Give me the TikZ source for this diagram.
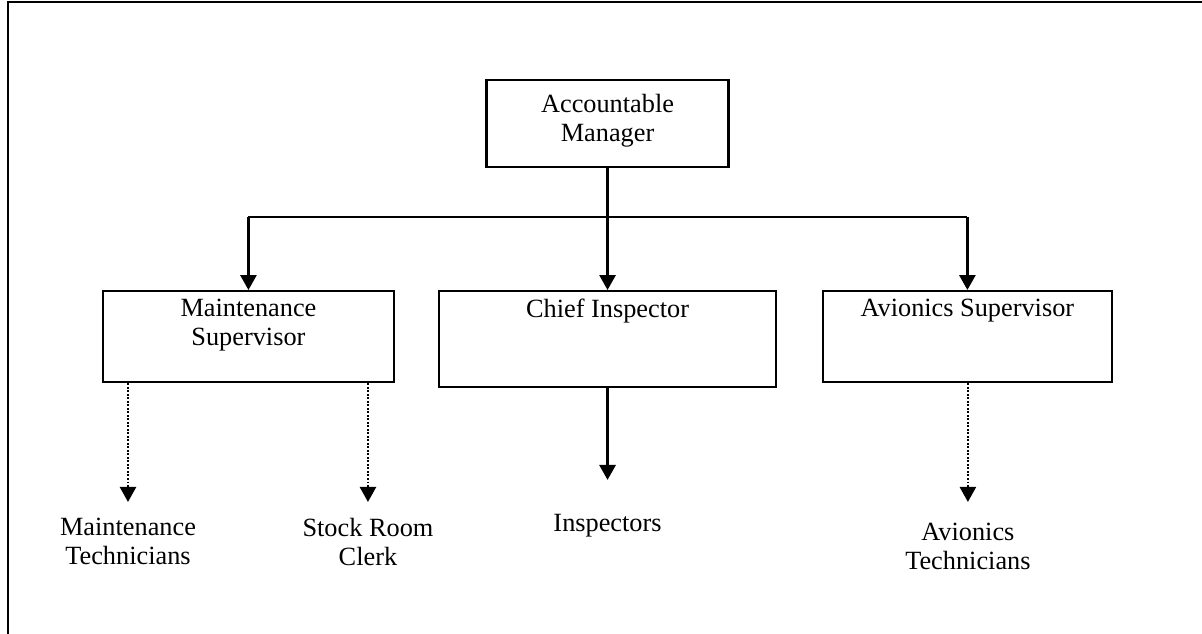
\documentclass[tikz,border=0pt]{standalone}
\usepackage{fontspec}
\setmainfont{Liberation Serif}
\usetikzlibrary{arrows.meta,positioning}

\begin{document}
\begin{tikzpicture}[
    font=\fontsize{12}{13.2}\selectfont,
    unit/.style={rectangle, draw, line width=1.05pt, align=center},
    caption/.style={anchor=north, inner sep=0pt, yshift=-0.145cm, align=center},
    staff/.style={anchor=north, inner sep=0pt, outer sep=0.26cm, align=center},
    line/.style={line width=1.05pt},
    arrow/.style={line width=1.05pt, -{Triangle[length=0.24cm, width=0.26cm]}},
    dotarrow/.style={line width=0.8pt, dash pattern=on 0.8pt off 0.8pt, -{Triangle[length=0.24cm, width=0.26cm]}}
]
\useasboundingbox (0,0) rectangle (19.27,-10.163);

% Frame
\draw[line width=1.1pt] (0.128,-10.163) -- (0.128,-0.032) -- (19.27,-0.032);

% Top
\node[unit, minimum width=3.879cm, minimum height=1.395cm,
      label={[caption, yshift=-0.095cm]north:{Accountable\\Manager}}] (am) at (9.74,-1.98) {};
\coordinate (bus) at (9.74,-3.478);

% Supervisors
\node[unit, anchor=north, minimum width=4.665cm, minimum height=1.459cm,
      label={[caption]north:{Maintenance\\Supervisor}}] (ms) at (3.983,-4.649) {};
\node[unit, anchor=north, minimum width=5.402cm, minimum height=1.539cm,
      label={[caption]north:{Chief Inspector}}] (ci) at (9.74,-4.649) {};
\node[unit, anchor=north, minimum width=4.633cm, minimum height=1.459cm,
      label={[caption]north:{Avionics Supervisor}}] (as) at (15.509,-4.649) {};

% Staff
\node[staff] (mt) at (2.052,-8.047) {Maintenance\\Technicians};
\node[staff] (src) at (5.899,-8.047) {Stock Room\\Clerk};
\node[staff, outer sep=0.545cm] (insp) at (9.74,-7.694) {Inspectors};
\node[staff, outer sep=0.34cm] (at) at (15.517,-8.047) {Avionics\\Technicians};

% Arrows
\draw[arrow] (am) -- (ci);
\draw[line] (bus -| ms) -- (bus -| as);
\draw[arrow] (bus -| ms) -- (ms);
\draw[arrow] (bus -| as) -- (as);
\draw[dotarrow] (mt |- ms.south) -- (mt);
\draw[dotarrow] (src |- ms.south) -- (src);
\draw[arrow] (ci) -- (insp);
\draw[dotarrow] (at |- as.south) -- (at);

\end{tikzpicture}
\end{document}
